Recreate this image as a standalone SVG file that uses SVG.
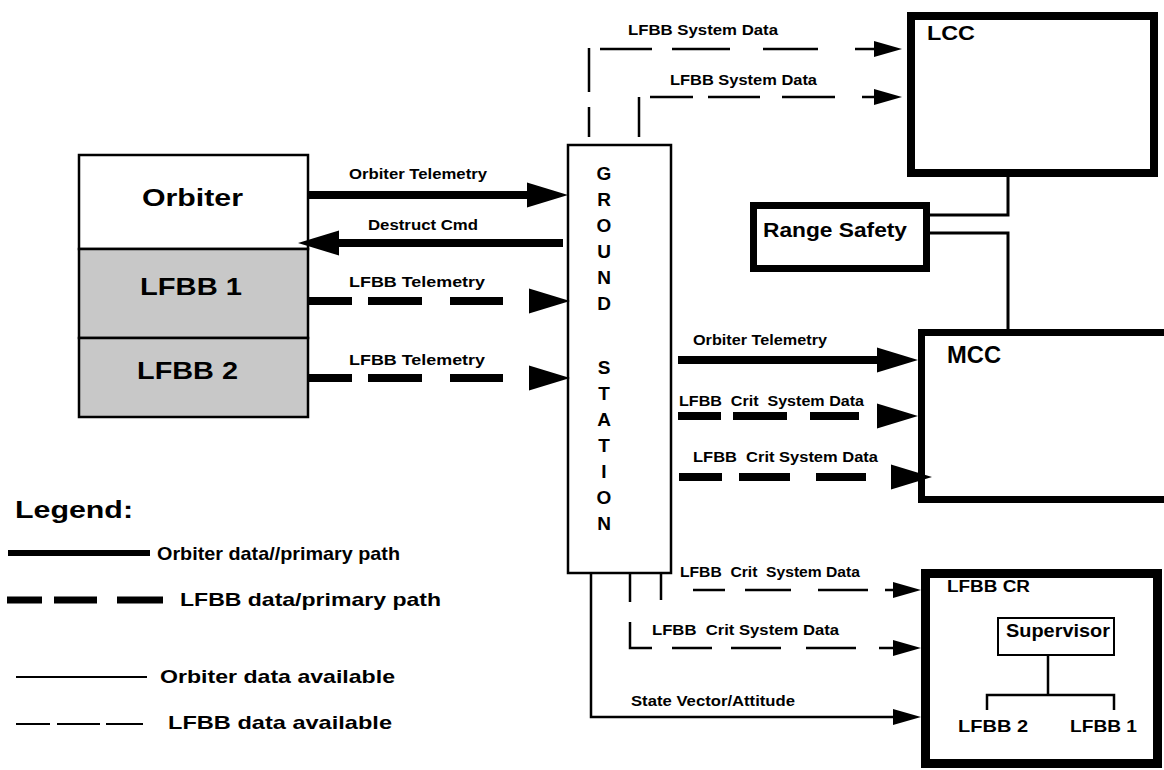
<svg xmlns="http://www.w3.org/2000/svg" width="1164" height="770" viewBox="0 0 1164 770">
<defs>
<path id="ahT" d="M0,0 L-41,-12.5 L-41,12.5 Z"/>
<path id="aht" d="M0,0 L-28,-8 L-28,8 Z"/>
</defs>
<style>
text{font-family:"Liberation Sans",Arial,Helvetica,sans-serif;font-weight:bold;fill:#000}
.lbl{font-size:15px}
.big{font-size:24px}
.gs{font-size:19px}
.leg{font-size:19px}
.thick{stroke:#000;stroke-width:8;fill:none}
.thin{stroke:#000;stroke-width:2.5;fill:none}
.med{stroke:#000;stroke-width:3;fill:none}
.box{fill:#fff;stroke:#000}
.stip{fill:#c8c8c8;stroke:#000;stroke-width:2.5}
use{fill:#000}
</style>
<rect width="1164" height="770" fill="#fff"/>

<g id="vehicle">
  <g id="orbiter">
    <rect x="79" y="155" width="229" height="94" class="box" stroke-width="2.5"/>
    <text class="big" x="142" y="206" textLength="101" lengthAdjust="spacingAndGlyphs">Orbiter</text>
  </g>
  <g id="lfbb1">
    <rect x="79" y="249" width="229" height="89" class="stip"/>
    <text class="big" x="140" y="295" textLength="102" lengthAdjust="spacingAndGlyphs">LFBB 1</text>
  </g>
  <g id="lfbb2">
    <rect x="79" y="338" width="229" height="79" class="stip"/>
    <text class="big" x="137" y="379" textLength="101" lengthAdjust="spacingAndGlyphs">LFBB 2</text>
  </g>
</g>

<g id="ground-station">
  <rect x="568" y="145" width="103" height="428" class="box" stroke-width="2.5"/>
  <g class="gs" text-anchor="middle">
    <text class="gs" x="604" y="180">G</text>
    <text class="gs" x="604" y="206">R</text>
    <text class="gs" x="604" y="232">O</text>
    <text class="gs" x="604" y="258">U</text>
    <text class="gs" x="604" y="284">N</text>
    <text class="gs" x="604" y="310">D</text>
    <text class="gs" x="604" y="374">S</text>
    <text class="gs" x="604" y="400">T</text>
    <text class="gs" x="604" y="426">A</text>
    <text class="gs" x="604" y="452">T</text>
    <text class="gs" x="604" y="478">I</text>
    <text class="gs" x="604" y="504">O</text>
    <text class="gs" x="604" y="530">N</text>
  </g>
</g>

<g id="lcc">
  <rect x="911" y="16" width="243" height="157" class="box" stroke-width="8"/>
  <text x="927" y="40" font-size="21" textLength="48" lengthAdjust="spacingAndGlyphs">LCC</text>
</g>

<g id="range-safety">
  <rect x="753.5" y="205.5" width="173" height="63" class="box" stroke-width="7"/>
  <text x="763" y="237" font-size="20" textLength="144" lengthAdjust="spacingAndGlyphs">Range Safety</text>
</g>

<g id="mcc">
  <rect x="921.5" y="332.5" width="260" height="167" class="box" stroke-width="7"/>
  <text x="947" y="363" font-size="24" textLength="54" lengthAdjust="spacingAndGlyphs">MCC</text>
</g>

<g id="lfbb-cr">
  <rect x="925.5" y="573.5" width="232" height="190" class="box" stroke-width="9"/>
  <text x="947" y="592" font-size="16" textLength="83" lengthAdjust="spacingAndGlyphs">LFBB CR</text>
  <g id="supervisor">
    <rect x="998" y="618" width="116" height="37" class="box" stroke-width="2"/>
    <text x="1006" y="637" font-size="18" textLength="104" lengthAdjust="spacingAndGlyphs">Supervisor</text>
  </g>
  <path class="thin" d="M1048,655V695M987,710V695H1114V710"/>
  <text x="958" y="732" font-size="17" textLength="70" lengthAdjust="spacingAndGlyphs">LFBB 2</text>
  <text x="1070" y="732" font-size="17" textLength="67" lengthAdjust="spacingAndGlyphs">LFBB 1</text>
</g>

<g id="connectors">
  <path class="thick" d="M308,195H530"/>
  <use href="#ahT" x="568" y="195"/>
  <text class="lbl" x="349" y="179" textLength="138" lengthAdjust="spacingAndGlyphs">Orbiter Telemetry</text>

  <path class="thick" d="M563,243H336"/>
  <use href="#ahT" transform="translate(298,243) rotate(180)"/>
  <text class="lbl" x="368" y="230" textLength="110" lengthAdjust="spacingAndGlyphs">Destruct Cmd</text>

  <path class="thick" d="M308,301H352M368,301H422M450,301H503"/>
  <use href="#ahT" x="570" y="301"/>
  <text class="lbl" x="349" y="287" textLength="136" lengthAdjust="spacingAndGlyphs">LFBB Telemetry</text>

  <path class="thick" d="M308,378H352M368,378H422M450,378H503"/>
  <use href="#ahT" x="570" y="378"/>
  <text class="lbl" x="349" y="365" textLength="136" lengthAdjust="spacingAndGlyphs">LFBB Telemetry</text>

  <path class="thick" d="M678,360H880"/>
  <use href="#ahT" x="918" y="360"/>
  <text class="lbl" x="693" y="345" textLength="134" lengthAdjust="spacingAndGlyphs">Orbiter Telemetry</text>

  <path class="thick" d="M678,416H721M733,416H787M810,416H859"/>
  <use href="#ahT" x="918" y="416"/>
  <text class="lbl" x="679" y="406" textLength="185" lengthAdjust="spacingAndGlyphs" xml:space="preserve">LFBB  Crit  System Data</text>

  <path class="thick" d="M679,477H722M739,477H790M816,477H866"/>
  <use href="#ahT" x="932" y="477"/>
  <text class="lbl" x="693" y="462" textLength="185" lengthAdjust="spacingAndGlyphs" xml:space="preserve">LFBB  Crit System Data</text>

  <path class="thin" d="M589,48V92M589,107V137M600,49H652M672,49H730M763,49H818M855,49H875"/>
  <use href="#aht" x="902" y="49"/>
  <text class="lbl" x="628" y="35" textLength="150" lengthAdjust="spacingAndGlyphs">LFBB System Data</text>

  <path class="thin" d="M639,97V137M650,97H693M708,97H760M782,97H835M862,97H875"/>
  <use href="#aht" x="902" y="97"/>
  <text class="lbl" x="670" y="85" textLength="147" lengthAdjust="spacingAndGlyphs">LFBB System Data</text>

  <path class="med" d="M1008,177V215H930M930,233H1008V329"/>

  <path class="thin" d="M661,573V600M693,590H725M745,590H791M818,590H868M885,590H895"/>
  <use href="#aht" x="921" y="590"/>
  <text class="lbl" x="680" y="577" textLength="180" lengthAdjust="spacingAndGlyphs" xml:space="preserve">LFBB  Crit  System Data</text>

  <path class="thin" d="M630,573V602M630,622V648H652M672,648H712M731,648H781M806,648H856M879,648H895"/>
  <use href="#aht" x="921" y="648"/>
  <text class="lbl" x="652" y="635" textLength="187" lengthAdjust="spacingAndGlyphs" xml:space="preserve">LFBB  Crit System Data</text>

  <path class="thin" d="M591,573V717H895"/>
  <use href="#aht" x="921" y="717"/>
  <text class="lbl" x="631" y="706" textLength="164" lengthAdjust="spacingAndGlyphs">State Vector/Attitude</text>
</g>

<g id="legend">
  <text x="15" y="518" font-size="24" textLength="118" lengthAdjust="spacingAndGlyphs">Legend:</text>
  <path stroke="#000" stroke-width="6" d="M8,553H150"/>
  <text class="leg" x="157" y="560" textLength="243" lengthAdjust="spacingAndGlyphs">Orbiter data//primary path</text>
  <path stroke="#000" stroke-width="7" d="M7,600H42M54,600H97M117,600H163"/>
  <text class="leg" x="180" y="606" textLength="261" lengthAdjust="spacingAndGlyphs">LFBB data/primary path</text>
  <path stroke="#000" stroke-width="2" d="M16,677H147"/>
  <text class="leg" x="160" y="683" textLength="235" lengthAdjust="spacingAndGlyphs">Orbiter data available</text>
  <path stroke="#000" stroke-width="2" d="M16,724H50M57,724H100M106,724H143"/>
  <text class="leg" x="168" y="729" textLength="224" lengthAdjust="spacingAndGlyphs">LFBB data available</text>
</g>
</svg>
